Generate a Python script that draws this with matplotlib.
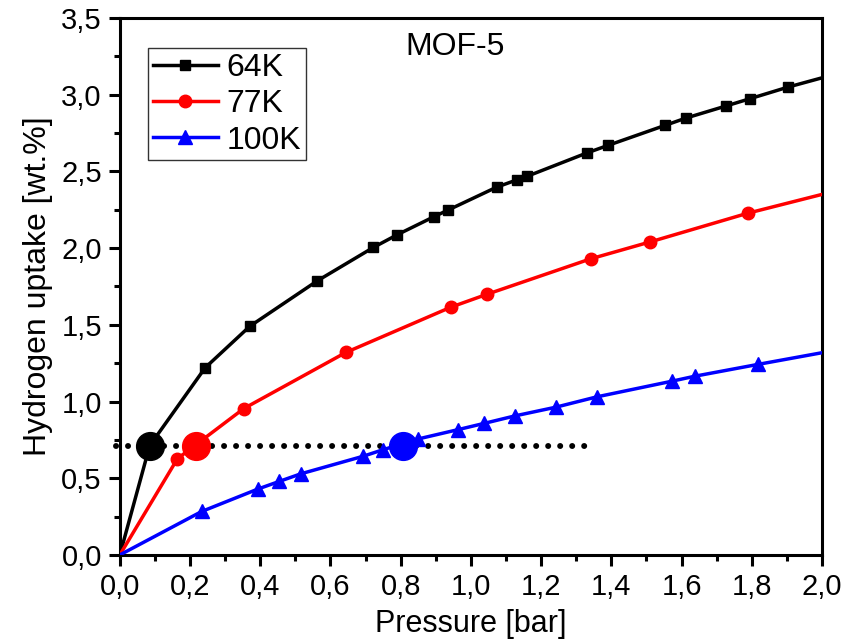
import matplotlib
matplotlib.use("Agg")
import matplotlib.pyplot as plt
from matplotlib.ticker import MultipleLocator, FuncFormatter

plt.rcParams["font.family"] = ["Liberation Sans", "DejaVu Sans"]

# isotherms (pressure in bar, uptake in wt.%)
p_64 = [0.0, 0.085, 0.243, 0.37, 0.562, 0.722, 0.79, 0.895, 0.935, 1.073, 1.13, 1.16,
        1.33, 1.391, 1.553, 1.613, 1.726, 1.795, 1.904, 2.0]
h_64 = [0.0, 0.712, 1.22, 1.49, 1.786, 2.004, 2.087, 2.205, 2.248, 2.397, 2.444, 2.468,
        2.62, 2.67, 2.80, 2.848, 2.926, 2.974, 3.05, 3.11]

p_77 = [0.0, 0.164, 0.353, 0.644, 0.943, 1.047, 1.341, 1.51, 1.788, 2.0]
h_77 = [0.0, 0.627, 0.954, 1.32, 1.615, 1.70, 1.93, 2.04, 2.227, 2.35]

p_100 = [0.0, 0.233, 0.394, 0.454, 0.516, 0.693, 0.75, 0.85, 0.964, 1.037, 1.125,
         1.242, 1.358, 1.574, 1.638, 1.818, 2.0]
h_100 = [0.0, 0.283, 0.43, 0.479, 0.529, 0.643, 0.686, 0.756, 0.817, 0.857, 0.906,
         0.963, 1.03, 1.133, 1.165, 1.242, 1.318]

# points at equal uptake and the guide line
uptake_ref = 0.712
p_ref = [0.085, 0.216, 0.807]
ref_colors = ["black", "red", "blue"]
guide_x = [-0.01, 1.325]

fs = 21

fig = plt.figure(figsize=(8.5, 6.43), dpi=100)
ax = fig.add_axes([0.141, 0.137, 0.826, 0.835])

ax.plot(guide_x, [uptake_ref, uptake_ref], color="black", linestyle=(0, (0.01, 2.0)),
        linewidth=4.3, dash_capstyle="round", clip_on=False, zorder=1)

ax.plot(p_64, h_64, color="black", lw=2.5, marker="s", ms=7.5,
        markevery=list(range(1, len(p_64) - 1)), label="64K", zorder=3)
ax.plot(p_77, h_77, color="red", lw=2.5, marker="o", ms=9,
        markevery=list(range(1, len(p_77) - 1)), label="77K", zorder=3)
ax.plot(p_100, h_100, color="blue", lw=2.5, marker="^", ms=9.5,
        markevery=list(range(1, len(p_100) - 1)), label="100K", zorder=3)

for p, c in zip(p_ref, ref_colors):
    ax.plot(p, uptake_ref, marker="o", color=c, ms=20, zorder=4, clip_on=False)

ax.set_xlim(0, 2.0)
ax.set_ylim(0, 3.5)
ax.xaxis.set_major_locator(MultipleLocator(0.2))
ax.xaxis.set_minor_locator(MultipleLocator(0.1))
ax.yaxis.set_major_locator(MultipleLocator(0.5))
ax.yaxis.set_minor_locator(MultipleLocator(0.25))
comma = FuncFormatter(lambda v, pos: ("%.1f" % v).replace(".", ","))
ax.xaxis.set_major_formatter(comma)
ax.yaxis.set_major_formatter(comma)

ax.tick_params(which="both", direction="out", width=2.2, labelsize=fs,
               top=False, right=False)
ax.tick_params(which="major", length=8, pad=5)
ax.tick_params(which="minor", length=4.5)
for s in ax.spines.values():
    s.set_linewidth(2.2)

ax.set_xlabel("Pressure [bar]", fontsize=22, labelpad=6)
ax.set_ylabel("Hydrogen uptake [wt.%]", fontsize=23, labelpad=6)

ax.text(0.477, 0.946, "MOF-5", transform=ax.transAxes, fontsize=23,
        ha="center", va="center")

leg = ax.legend(loc="upper left", bbox_to_anchor=(0.04, 0.944), borderaxespad=0,
                fontsize=23, frameon=True, fancybox=False, handlelength=2.05,
                handletextpad=0.25, labelspacing=0.2, borderpad=0.15)
leg.get_frame().set_edgecolor("black")
leg.get_frame().set_linewidth(1.0)

fig.savefig("out.png", dpi=100)
